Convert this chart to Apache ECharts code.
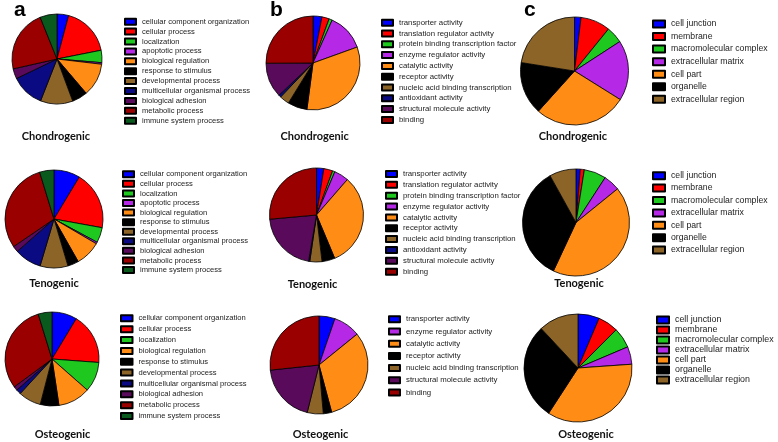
<!DOCTYPE html>
<html><head><meta charset="utf-8">
<script src="https://cdn.jsdelivr.net/npm/echarts@6/dist/echarts.min.js"></script>
<style>html,body{margin:0;padding:0;background:#fff}#c{width:778px;height:442px}</style>
</head><body><div id="c"></div>
<script>
// ---- data ----
const aCats = ['cellular component organization','cellular process','localization','apoptotic process','biological regulation','response to stimulus','developmental process','multicellular organismal process','biological adhesion','metabolic process','immune system process'];
const aChondro = [15,64,16,2,43,20,42,43,13,81,22];
const aTeno = [31,69,18,2,30,13,33,32,7,107,17];
const aOsteoCats = ['cellular component organization','cellular process','localization','biological regulation','response to stimulus','developmental process','multicellular organismal process','biological adhesion','metabolic process','immune system process'];
const aOsteo = [31,63,37,40,23,28,6,5,109,17];

const bCats = ['transporter activity','translation regulator activity','protein binding transcription factor','enzyme regulator activity','catalytic activity','receptor activity','nucleic acid binding transcription','antioxidant activity','structural molecule activity','binding'];
const bChondro = [11,9,4,46,117,24,12,3,43,90];
const bTeno = [9,11,3,18,116,16,15,1.5,75,95];
const bOsteoCats = ['transporter activity','enzyme regulator activity','catalytic activity','receptor activity','nucleic acid binding transcription','structural molecule activity','binding'];
const bOsteo = [19,32,114,10,19,70,96];

const cCats = ['cell junction','membrane','macromolecular complex','extracellular matrix','cell part','organelle','extracellular region'];
const cChondro = [7,32,18,65,100,57,81];
const cTeno = [4.6,4.4,24,18,154,126,29];
const cOsteo = [23,22,22,19,127,104,43];

const panelLetters = ['a','b','c'];
const rowTitles = ['Chondrogenic','Tenogenic','Osteogenic'];

// ---- styles ----
const COLORS = {
 'cellular component organization':'#0000ff','cellular process':'#ff0000','localization':'#1ec81e','apoptotic process':'#b428e6',
 'biological regulation':'#ff8c14','response to stimulus':'#000000','developmental process':'#8c6428','multicellular organismal process':'#0a0a82',
 'biological adhesion':'#5a0a5a','metabolic process':'#9b0000','immune system process':'#0a5a1e',
 'transporter activity':'#0000ff','translation regulator activity':'#ff0000','protein binding transcription factor':'#1ec81e','enzyme regulator activity':'#b428e6',
 'catalytic activity':'#ff8c14','receptor activity':'#000000','nucleic acid binding transcription':'#8c6428','antioxidant activity':'#0a0a82',
 'structural molecule activity':'#5a0a5a','binding':'#9b0000',
 'cell junction':'#0000ff','membrane':'#ff0000','macromolecular complex':'#1ec81e','extracellular matrix':'#b428e6','cell part':'#ff8c14','organelle':'#000000','extracellular region':'#8c6428'
};

function pie(names, values, cx, cy, r){
  return {type:'pie', center:[cx,cy], radius:r, startAngle:90, clockwise:true, animation:false, silent:true,
    label:{show:false}, labelLine:{show:false}, emphasis:{disabled:true},
    itemStyle:{borderColor:'#000', borderWidth:0.8},
    data:names.map((n,i)=>({name:n, value:values[i], itemStyle:{color:COLORS[n]}}))};
}
function legend(names, left, top, iw, ih, gap, fs, lh){
  return {orient:'vertical', left, top, itemWidth:iw, itemHeight:ih, itemGap:gap, icon:'rect', selectedMode:false, padding:0,
    data:names, textStyle:{fontFamily:'Liberation Sans', fontSize:fs, lineHeight:lh, color:'#222', padding:[0,0,0,1]}};
}

const series = [
  pie(aCats, aChondro, 57, 59, 45),
  pie(aCats, aTeno, 54, 219, 49),
  pie(aOsteoCats, aOsteo, 52, 359, 47),
  pie(bCats, bChondro, 313, 63, 47),
  pie(bCats, bTeno, 316.5, 215, 47),
  pie(bOsteoCats, bOsteo, 319, 365, 49),
  pie(cCats, cChondro, 574.5, 71, 54),
  pie(cCats, cTeno, 576, 222.5, 53.5),
  pie(cCats, cOsteo, 578, 368, 54)
];
const legends = [
  legend(aCats, 124, 17.7, 11, 6, 1.9, 7.6, 8),
  legend(aCats, 122, 170.3, 11, 6, 1.57, 7.6, 8),
  legend(aOsteoCats, 120, 314.3, 11.5, 6, 2.86, 7.6, 8),
  legend(bCats, 381, 18.7, 11, 6, 2.8, 7.8, 8),
  legend(bCats, 385, 170, 11, 6, 2.85, 7.8, 8),
  legend(bOsteoCats, 388, 315.3, 11, 6, 4.2, 7.8, 8),
  legend(cCats, 652, 19, 12, 7, 2.55, 8.7, 10),
  legend(cCats, 652, 170.7, 12, 7, 2.4, 8.7, 10),
  legend(cCats, 656, 315, 12, 7, 0, 8.9, 10)
];

const letterPos = [[14,8],[270,8],[524,8]];
const titlePos = [
  [[56,136],[54,283],[62.5,434]],
  [[314.7,136],[312.5,284],[320.5,434]],
  [[573,136],[579,283],[586,434]]
];
const graphics = [];
panelLetters.forEach((t,i)=>graphics.push({type:'text', left:letterPos[i][0], top:letterPos[i][1]-8, silent:true,
  style:{text:t, font:'bold 21px "Liberation Sans"', fill:'#000'}}));
titlePos.forEach(col=>col.forEach((p,j)=>graphics.push({type:'text', x:p[0], y:p[1], silent:true,
  style:{text:rowTitles[j], font:'bold 11px Lato', fill:'#111', align:'center', verticalAlign:'middle'}})));

const chart = echarts.init(document.getElementById('c'), null, {renderer:'canvas'});
chart.setOption({animation:false, backgroundColor:'#fff', legend:legends, series, graphic:graphics});
</script></body></html>
